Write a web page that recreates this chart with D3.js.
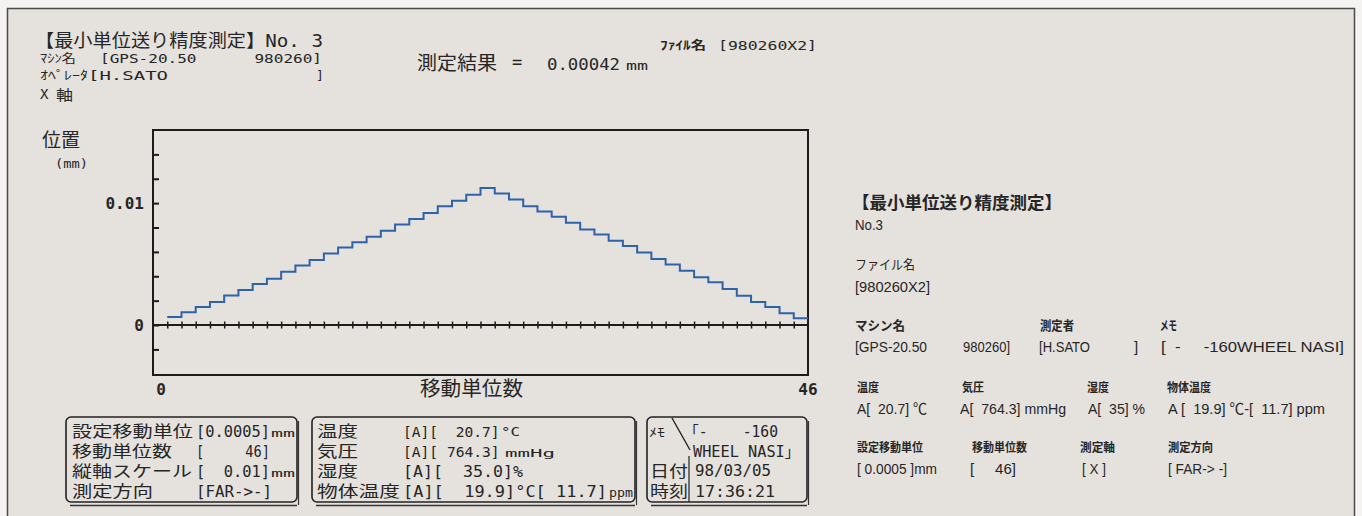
<!DOCTYPE html>
<html><head><meta charset="utf-8">
<script src="https://cdn.jsdelivr.net/npm/d3@7"></script>
<style>
html,body{margin:0;padding:0;background:#f4f3f1;}
svg{display:block}
svg text{white-space:pre}
</style>
</head><body>
<svg id="c" width="1362" height="516"></svg>
<script>
// ---------- data ----------
const titleText = "【最小単位送り精度測定】";
const measNo = "3";
const machineName = "GPS-20.50";
const machineSerial = "980260";
const operatorName = "H.SATO";
const fileName = "980260X2";
const resultValue = "0.00042";
const axisName = "X";
const setUnit = "0.0005";
const unitCount = "46";
const yScaleSetting = "0.01";
const direction = "FAR->-";
const envTemp = "20.7";
const envPressure = "764.3";
const envHumidity = "35.0";
const objTemp = "19.9";
const objPpm = "11.7";
const memo1 = "-    -160";
const memo2 = "WHEEL NASI";
const dateText = "98/03/05";
const timeText = "17:36:21";

// step index (x) and measured position (mm)
const moveUnits = [1,2,3,4,5,6,7,8,9,10,11,12,13,14,15,16,17,18,19,20,21,22,23,
  24,25,26,27,28,29,30,31,32,33,34,35,36,37,38,39,40,41,42,43,44,45];
const positions = [0.00066,0.00104,0.00148,0.00189,0.00243,0.00287,0.00336,0.0038,
  0.00437,0.00489,0.00533,0.00587,0.00637,0.0068,0.00724,0.00773,0.00825,0.00869,
  0.0092,0.00975,0.01019,0.01068,0.01125,
  0.0108,0.0103,0.00975,0.00932,0.00888,0.00839,0.00784,0.00743,0.00691,0.00648,
  0.00596,0.00541,0.00497,0.00445,0.00391,0.0035,0.00295,0.0024,0.00189,0.00148,
  0.00096,0.00055];
const xDomain = [0, 46];
const yDomain = [-0.0041, 0.016];
const yTickValues = [-0.002,0,0.002,0.004,0.006,0.008,0.01,0.012,0.014];
const yTickLabels = [{v:0, t:"0"},{v:0.01, t:"0.01"}];
const xTickLabels = [{v:0, t:"0"},{v:46, t:"46"}];

// ---------- drawing ----------
const MONO = "'DejaVu Sans Mono','Noto Sans CJK JP',monospace";
const CJK = "'Noto Sans CJK JP',sans-serif";
const NARROW = "'Liberation Sans Narrow','Liberation Sans','Noto Sans CJK JP',sans-serif";
const INK = "#262626";
const svg = d3.select("#c");

function txt(s, x, y, o = {}) {
  const t = svg.append("text").attr("x", x).attr("y", y).text(s)
    .attr("font-family", o.f || MONO).attr("font-size", o.s || 13)
    .attr("fill", o.c || INK);
  if (o.w) t.attr("textLength", o.w).attr("lengthAdjust", "spacingAndGlyphs");
  if (o.a) t.attr("text-anchor", o.a);
  if (o.b) t.attr("font-weight", o.b);
  return t;
}

// paper
svg.append("rect").attr("x", 7.5).attr("y", 8.5).attr("width", 1347).attr("height", 520)
  .attr("fill", "#e5e1dd").attr("stroke", "#4a4a4a").attr("stroke-width", 1.5);

// header
txt(titleText + "No. " + measNo, 35, 47, {s: 18, w: 288});
txt("ﾏｼﾝ名", 40, 63, {s: 12, w: 36});
txt("[" + machineName + "      " + machineSerial + "]", 100, 63, {s: 13, w: 222});
txt("ｵﾍﾟﾚｰﾀ", 40, 80, {s: 12, w: 48});
txt("[" + operatorName, 88, 80, {s: 13, w: 80});
txt("]", 316, 80, {s: 13});
txt(axisName, 40, 99, {s: 14});
txt("軸", 56, 100, {s: 14, f: CJK, w: 17});

txt("測定結果", 417, 70, {s: 19, w: 80, f: CJK});
txt("=", 512, 68, {s: 17});
txt(resultValue, 547, 70, {s: 16, w: 73});
txt("mm", 626, 70, {s: 12, w: 22});
txt("ﾌｧｲﾙ名", 660, 50, {s: 12, w: 46, b: "bold"});
txt("[" + fileName + "]", 718, 50, {s: 13, w: 99});

// chart
const x = d3.scaleLinear().domain(xDomain).range([153, 808]);
const y = d3.scaleLinear().domain(yDomain).range([375, 130]);

svg.append("rect").attr("x", x(xDomain[0])).attr("y", y(yDomain[1]))
  .attr("width", x(xDomain[1]) - x(xDomain[0])).attr("height", y(yDomain[0]) - y(yDomain[1]))
  .attr("fill", "none").attr("stroke", "#1c1c1c").attr("stroke-width", 2);

// y ticks (inward)
const yAxis = svg.append("g").attr("transform", `translate(${x(xDomain[0])},0)`)
  .call(d3.axisRight(y).tickValues(yTickValues).tickSize(6).tickFormat(""));
yAxis.select(".domain").remove();
yAxis.selectAll("line").attr("stroke", "#1c1c1c").attr("stroke-width", 2);

// zero line with cross ticks
svg.append("line").attr("x1", x(xDomain[0])).attr("x2", x(xDomain[1]))
  .attr("y1", y(0)).attr("y2", y(0)).attr("stroke", "#1c1c1c").attr("stroke-width", 2);
const xAxis = svg.append("g").attr("transform", `translate(0,${y(0) - 3.5})`)
  .call(d3.axisBottom(x).tickValues(moveUnits).tickSize(7).tickFormat(""));
xAxis.select(".domain").remove();
xAxis.selectAll("line").attr("stroke", "#1c1c1c").attr("stroke-width", 1.5);

// step line
const pts = moveUnits.map((u, i) => [u, positions[i]]);
pts.push([xDomain[1], positions[positions.length - 1]]);
svg.append("path").datum(pts)
  .attr("d", d3.line().x(d => x(d[0])).y(d => y(d[1])).curve(d3.curveStepAfter))
  .attr("fill", "none").attr("stroke", "#2f62a8").attr("stroke-width", 2);

// axis labels
yTickLabels.forEach(d => txt(d.t, 144, y(d.v) + 6, {s: 16, a: "end", b: "bold"}));
xTickLabels.forEach(d => txt(d.t, x(d.v) + (d.v === 0 ? 8 : 0), 395, {s: 16, a: "middle", b: "bold"}));
txt("位置", 42, 147, {s: 19, f: CJK, w: 38});
txt("(mm)", 55, 168, {s: 13, w: 33});
txt("移動単位数", 420, 396, {s: 20, f: CJK, w: 103});

// bottom boxes
function box(x0, x1) {
  svg.append("rect").attr("x", x0).attr("y", 417).attr("width", x1 - x0).attr("height", 85)
    .attr("rx", 5).attr("fill", "none").attr("stroke", "#222").attr("stroke-width", 1.6);
  svg.append("line").attr("x1", x0 + 4).attr("x2", x1).attr("y1", 505.5).attr("y2", 505.5)
    .attr("stroke", "#333").attr("stroke-width", 1.6);
  svg.append("line").attr("x1", x1 + 1.5).attr("x2", x1 + 1.5).attr("y1", 421).attr("y2", 505)
    .attr("stroke", "#333").attr("stroke-width", 1.2);
}
box(66, 297);
box(312, 635);
box(647, 807);

const rowY = [437, 457, 477, 497];
const LS = 15.5; // label font size in the boxes
// box 1
txt("設定移動単位", 72, rowY[0], {s: LS, f: CJK, w: 121});
txt("[" + setUnit + "]", 196, rowY[0], {s: 16, w: 74});
txt("mm", 271, rowY[0], {s: 11, w: 24});
txt("移動単位数", 72, rowY[1], {s: LS, f: CJK, w: 100});
txt("[     " + unitCount + "]", 196, rowY[1], {s: 16, w: 74});
txt("縦軸スケール", 72, rowY[2], {s: LS, f: CJK, w: 120});
txt("[  " + yScaleSetting + "]", 196, rowY[2], {s: 16, w: 74});
txt("mm", 271, rowY[2], {s: 11, w: 24});
txt("測定方向", 72, rowY[3], {s: LS, f: CJK, w: 81});
txt("[" + direction + "]", 196, rowY[3], {s: 16, w: 76});

// box 2
txt("温度", 317, rowY[0], {s: LS, f: CJK, w: 41});
txt("[A][  " + envTemp + "]", 403, rowY[0], {s: 14.6});
txt("°C", 501, rowY[0] - 1, {s: 12.5, w: 19});
txt("気圧", 317, rowY[1], {s: LS, f: CJK, w: 41});
txt("[A][ " + envPressure + "]", 403, rowY[1], {s: 14.6});
txt("mmHg", 505, rowY[1], {s: 11, w: 50});
txt("湿度", 317, rowY[2], {s: LS, f: CJK, w: 41});
txt("[A][  " + envHumidity + "]%", 403, rowY[2], {s: 16, w: 120});
txt("物体温度", 317, rowY[3], {s: LS, f: CJK, w: 83});
txt("[A][  " + objTemp + "]°C[ " + objPpm + "]", 403, rowY[3], {s: 16, w: 204});
txt("ppm", 609, rowY[3], {s: 13, w: 24});

// box 3
txt("ﾒﾓ", 649, 437, {s: 12, w: 16});
svg.append("line").attr("x1", 672).attr("y1", 418).attr("x2", 690).attr("y2", 450)
  .attr("stroke", "#222").attr("stroke-width", 1.4);
txt("「" + memo1, 684, 437, {s: 15, w: 94});
txt(memo2 + "」", 693, 457, {s: 15, w: 107});
txt("日付", 650, 477, {s: LS, f: CJK, w: 38});
txt(dateText, 695, 476, {s: 15, w: 76});
txt("時刻", 650, 497, {s: LS, f: CJK, w: 38});
txt(timeText, 695, 497, {s: 15, w: 80});
svg.append("line").attr("x1", 689).attr("y1", 456).attr("x2", 689).attr("y2", 502)
  .attr("stroke", "#222").attr("stroke-width", 1.2);

// right-hand summary
const RF = NARROW, RLAB = "'Noto Sans CJK JP',sans-serif";
txt(titleText, 852, 209, {s: 17, f: RLAB, w: 210, b: "bold"});
txt("No." + measNo, 855, 230, {s: 14, f: RF, w: 28});
txt("ファイル名", 855, 269, {s: 13, f: RLAB, w: 60});
txt("[" + fileName + "]", 855, 292, {s: 15, f: RF, w: 75});

txt("マシン名", 855, 330, {s: 13, f: RLAB, w: 50, b: "bold"});
txt("測定者", 1040, 330, {s: 13, f: RLAB, w: 34, b: "bold"});
txt("メモ", 1160, 330, {s: 13, f: RLAB, w: 17, b: "bold"});
txt("[" + machineName, 855, 352, {s: 15, f: RF, w: 72});
txt(machineSerial + "]", 963, 352, {s: 15, f: RF, w: 47});
txt("[" + operatorName, 1039, 352, {s: 15, f: RF, w: 51});
txt("]", 1134, 352, {s: 15, f: RF});
txt("[  -     -160" + memo2 + "]", 1161, 352, {s: 15, f: RF, w: 183});

txt("温度", 857, 392, {s: 12, f: RLAB, w: 22, b: "bold"});
txt("気圧", 962, 392, {s: 12, f: RLAB, w: 22, b: "bold"});
txt("湿度", 1087, 392, {s: 12, f: RLAB, w: 22, b: "bold"});
txt("物体温度", 1167, 392, {s: 12, f: RLAB, w: 44, b: "bold"});
txt("A[  " + envTemp + "] ℃", 857, 414, {s: 15, f: RF, w: 70});
txt("A[  " + envPressure + "] mmHg", 960, 414, {s: 15, f: RF, w: 106});
txt("A[  35] %", 1088, 414, {s: 15, f: RF, w: 57});
txt("A [  " + objTemp + "] ℃-[  " + objPpm + "] ppm", 1168, 414, {s: 15, f: RF, w: 157});

txt("設定移動単位", 857, 452, {s: 12, f: RLAB, w: 66, b: "bold"});
txt("移動単位数", 972, 452, {s: 12, f: RLAB, w: 55, b: "bold"});
txt("測定軸", 1080, 452, {s: 12, f: RLAB, w: 35, b: "bold"});
txt("測定方向", 1168, 452, {s: 12, f: RLAB, w: 45, b: "bold"});
txt("[ " + setUnit + " ]mm", 857, 474, {s: 15, f: RF, w: 80});
txt("[     " + unitCount + "]", 970, 474, {s: 15, f: RF, w: 46});
txt("[ " + axisName + " ]", 1082, 474, {s: 15, f: RF, w: 24});
txt("[ FAR-> -]", 1168, 474, {s: 15, f: RF, w: 59});
</script>
</body></html>
